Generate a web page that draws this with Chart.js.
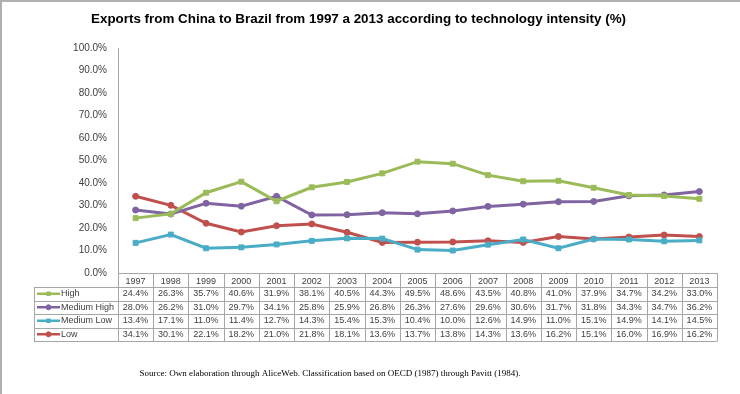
<!DOCTYPE html>
<html>
<head>
<meta charset="utf-8">
<title>Exports from China to Brazil by technology intensity</title>
<script src="https://cdn.jsdelivr.net/npm/chart.js@4.4.1/dist/chart.umd.min.js"></script>
<style>
  html, body { margin: 0; padding: 0; background: #fff; }
  #wrap { width: 740px; height: 394px; }
</style>
</head>
<body>
<div id="wrap"><canvas id="chart" width="740" height="394"></canvas></div>
<script>
const years = ['1997', '1998', '1999', '2000', '2001', '2002', '2003', '2004', '2005',
               '2006', '2007', '2008', '2009', '2010', '2011', '2012', '2013'];
const seriesNames = ['High', 'Medium High', 'Medium Low', 'Low'];
const high       = [24.4, 26.3, 35.7, 40.6, 31.9, 38.1, 40.5, 44.3, 49.5, 48.6, 43.5, 40.8, 41.0, 37.9, 34.7, 34.2, 33.0];
const mediumHigh = [28.0, 26.2, 31.0, 29.7, 34.1, 25.8, 25.9, 26.8, 26.3, 27.6, 29.6, 30.6, 31.7, 31.8, 34.3, 34.7, 36.2];
const mediumLow  = [13.4, 17.1, 11.0, 11.4, 12.7, 14.3, 15.4, 15.3, 10.4, 10.0, 12.6, 14.9, 11.0, 15.1, 14.9, 14.1, 14.5];
const low        = [34.1, 30.1, 22.1, 18.2, 21.0, 21.8, 18.1, 13.6, 13.7, 13.8, 14.3, 13.6, 16.2, 15.1, 16.0, 16.9, 16.2];
const yMin = 0, yMax = 100, yStep = 10;

const titleText = 'Exports from China to Brazil from 1997 a 2013 according to technology intensity (%)';
const sourceText = 'Source: Own elaboration through AliceWeb. Classification based on OECD (1987) through Pavitt (1984).';

const colors = ['#9bbb59', '#8064a2', '#4bacc6', '#c0504d'];
const markers = ['rect', 'circle', 'rect', 'circle'];

function makeSeries(i, values) {
    return {
        label: seriesNames[i],
        data: values,
        borderColor: colors[i],
        backgroundColor: colors[i],
        borderWidth: 3,
        pointStyle: markers[i],
        pointRadius: markers[i] === 'rect' ? 3.5 : 3,
        pointBorderWidth: 1,
        tension: 0
    };
}

// Frame, data table and source note
const tablePlugin = {
    id: 'tablePlugin',
    beforeDraw(chart) {
        const ctx = chart.ctx;
        ctx.save();
        ctx.fillStyle = '#fff';
        ctx.fillRect(0, 0, chart.width, chart.height);
        ctx.strokeStyle = '#b0b0b0';
        ctx.lineWidth = 2;
        ctx.beginPath();
        ctx.moveTo(1, chart.height);
        ctx.lineTo(1, 1);
        ctx.lineTo(chart.width, 1);
        ctx.stroke();
        ctx.restore();
    },
    afterDraw(chart) {
        const ctx = chart.ctx;
        const xs = chart.scales.x;
        const area = chart.chartArea;
        const sets = chart.data.datasets;
        const colW = (area.right - area.left) / years.length;
        const headTop = area.bottom;
        const headBot = headTop + 14;
        const rowH = 13.5;
        const tableBot = headBot + rowH * sets.length;
        const legLeft = 34;

        ctx.save();
        ctx.strokeStyle = '#a6a6a6';
        ctx.lineWidth = 1;
        ctx.beginPath();
        for (let k = 0; k <= years.length; k++) {
            const x = Math.round(area.left + k * colW) + 0.5;
            ctx.moveTo(x, headTop);
            ctx.lineTo(x, tableBot);
        }
        ctx.moveTo(legLeft + 0.5, headBot);
        ctx.lineTo(legLeft + 0.5, tableBot);
        for (let r = 0; r <= sets.length; r++) {
            const y = Math.round(headBot + r * rowH) + 0.5;
            ctx.moveTo(legLeft, y);
            ctx.lineTo(Math.round(area.right) + 0.5, y);
        }
        ctx.stroke();

        ctx.font = '9px "Liberation Sans", Arial, sans-serif';
        ctx.textBaseline = 'middle';
        sets.forEach((ds, r) => {
            const cy = headBot + r * rowH + rowH / 2;
            ctx.fillStyle = '#404040';
            ctx.textAlign = 'center';
            ds.data.forEach((v, i) => {
                ctx.fillText(v.toFixed(1) + '%', xs.getPixelForTick(i), cy);
            });
            // legend key
            ctx.strokeStyle = ds.borderColor;
            ctx.lineWidth = 2.5;
            ctx.beginPath();
            ctx.moveTo(37, cy);
            ctx.lineTo(60, cy);
            ctx.stroke();
            ctx.fillStyle = ds.backgroundColor;
            ctx.lineWidth = 1;
            Chart.helpers.drawPoint(ctx, { pointStyle: ds.pointStyle, radius: 2.5, borderWidth: 1 }, 48.5, cy);
            ctx.fillStyle = '#404040';
            ctx.textAlign = 'left';
            ctx.fillText(ds.label, 61, cy);
        });

        ctx.font = '9px "Liberation Serif", "Times New Roman", serif';
        ctx.fillStyle = '#000';
        ctx.textAlign = 'center';
        ctx.fillText(sourceText, 330, 374);
        ctx.restore();
    }
};

const ctx = document.getElementById('chart').getContext('2d');
new Chart(ctx, {
    type: 'line',
    data: {
        labels: years,
        datasets: [
            makeSeries(0, high),
            makeSeries(1, mediumHigh),
            makeSeries(2, mediumLow),
            makeSeries(3, low)
        ]
    },
    options: {
        responsive: false,
        devicePixelRatio: 1,
        animation: false,
        layout: { padding: { left: 0, right: 23, top: 0, bottom: 0 } },
        plugins: {
            legend: { display: false },
            tooltip: { enabled: false },
            title: {
                display: true,
                text: titleText,
                color: '#000',
                font: { family: '"Liberation Sans", Arial, sans-serif', size: 13.4, weight: 'bold' },
                padding: { top: 11, bottom: 21 }
            }
        },
        scales: {
            x: {
                offset: true,
                grid: { display: false, drawTicks: false },
                border: { display: true, color: '#a6a6a6' },
                ticks: {
                    color: '#404040',
                    padding: 3,
                    maxRotation: 0,
                    autoSkip: false,
                    font: { family: '"Liberation Sans", Arial, sans-serif', size: 9 }
                },
                afterFit(scale) { scale.height = 121; }
            },
            y: {
                min: yMin,
                max: yMax,
                grid: { display: false, drawTicks: false },
                border: { display: true, color: '#a6a6a6' },
                ticks: {
                    stepSize: yStep,
                    color: '#404040',
                    padding: 11,
                    font: { family: '"Liberation Sans", Arial, sans-serif', size: 10 },
                    callback: v => v.toFixed(1) + '%'
                },
                afterFit(scale) { scale.width = 118; }
            }
        }
    },
    plugins: [tablePlugin]
});
</script>
</body>
</html>
